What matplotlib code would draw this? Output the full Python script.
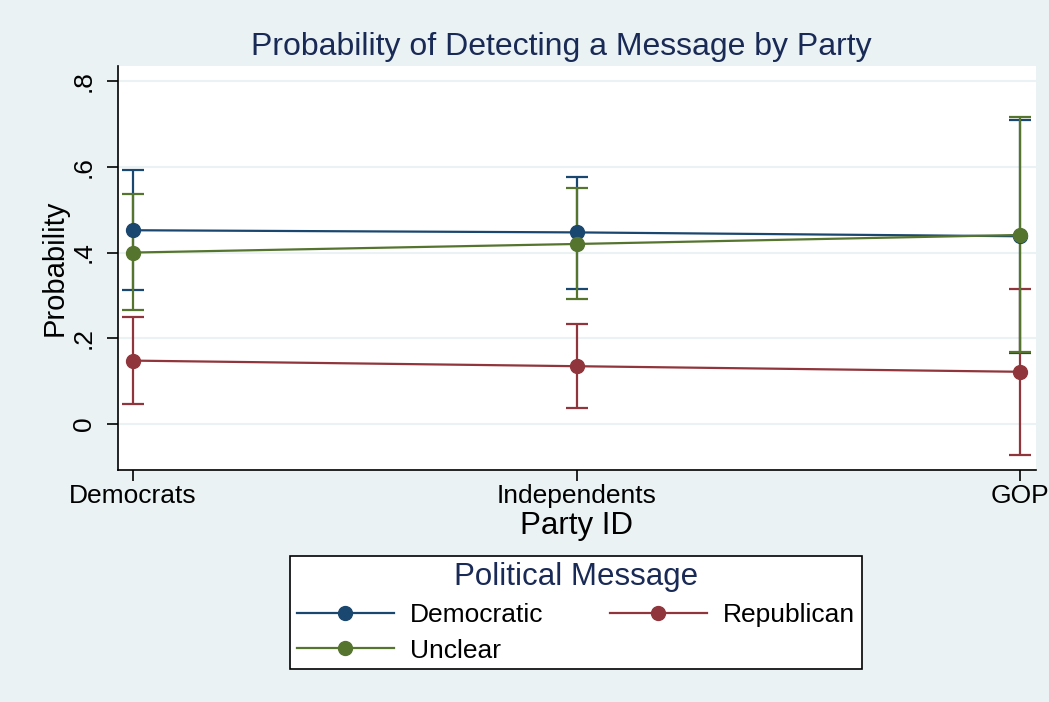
import matplotlib
matplotlib.use("Agg")
import matplotlib.pyplot as plt
from matplotlib.lines import Line2D

plt.rcParams['font.family'] = ['Liberation Sans', 'DejaVu Sans']

parties = ["Democrats", "Independents", "GOP"]
series_names = ["Democratic", "Republican", "Unclear"]
est_dem = [0.452, 0.447, 0.438]
lo_dem = [0.312, 0.316, 0.165]
hi_dem = [0.592, 0.577, 0.709]
est_rep = [0.148, 0.135, 0.122]
lo_rep = [0.047, 0.037, -0.072]
hi_rep = [0.250, 0.233, 0.316]
est_unc = [0.400, 0.420, 0.441]
lo_unc = [0.266, 0.291, 0.167]
hi_unc = [0.536, 0.551, 0.717]
yticks = [0, 0.2, 0.4, 0.6, 0.8]
ytick_labels = ["0", ".2", ".4", ".6", ".8"]

colors = {"Democratic": "#1a476f", "Republican": "#90353b", "Unclear": "#55752f"}
bg = "#eaf2f3"

fig = plt.figure(figsize=(10.49, 7.02), dpi=100, facecolor=bg)
ax = fig.add_axes([0.1125, 0.3305, 0.875, 0.5755])
ax.set_facecolor("white")

x = list(range(len(parties)))
data = [(series_names[0], est_dem, lo_dem, hi_dem),
        (series_names[1], est_rep, lo_rep, hi_rep),
        (series_names[2], est_unc, lo_unc, hi_unc)]

for z, (name, est, lo, hi) in enumerate(data):
    c = colors[name]
    yerr = [[e - l for e, l in zip(est, lo)], [h - e for e, h in zip(est, hi)]]
    ax.errorbar(x, est, yerr=yerr, fmt='none', ecolor=c, elinewidth=1.6,
                capsize=8, capthick=1.6, zorder=2 + z)
for z, (name, est, lo, hi) in enumerate(data):
    c = colors[name]
    ax.plot(x, est, color=c, lw=1.6, marker='o', markersize=10, zorder=6 + z)

ax.set_xlim(-0.034, 2.036)
ax.set_ylim(-0.107, 0.835)
ax.set_yticks(yticks)
ax.set_yticklabels(ytick_labels, rotation=90, va='center', fontsize=19)
ax.set_xticks(x)
ax.set_xticklabels(parties, fontsize=19)
ax.tick_params(axis='both', direction='out', length=8, width=1.2, color='black')
ax.tick_params(axis='y', pad=8)
ax.tick_params(axis='x', pad=2)
ax.grid(axis='y', color=bg, lw=1.5, zorder=0)
ax.set_axisbelow(True)
for s in ['top', 'right']:
    ax.spines[s].set_visible(False)
ax.spines['left'].set_linewidth(1.2)
ax.spines['bottom'].set_linewidth(1.2)

ax.set_xlabel("Party ID", fontsize=22.5, labelpad=2)
ax.set_ylabel("Probability", fontsize=21, labelpad=2)
fig.text(0.535, 0.933, "Probability of Detecting a Message by Party",
         ha='center', va='center', fontsize=23, color="#1a2a56")

handles = []
for name in [series_names[0], series_names[2], series_names[1]]:
    handles.append(Line2D([0], [0], color=colors[name], lw=1.6, marker='o', markersize=10))
labels = [series_names[0], series_names[2], series_names[1]]
leg = fig.legend(handles, labels, loc='center', ncol=2,
                 bbox_to_anchor=(0.2765, 0.0456, 0.545, 0.1638),
                 bbox_transform=fig.transFigure, mode='expand', borderaxespad=0,
                 fontsize=19, title="Political Message", title_fontsize=22.5,
                 frameon=True, fancybox=False, edgecolor='black', framealpha=1,
                 facecolor='white',
                 handlelength=3.7, handletextpad=0.6, columnspacing=2.0,
                 labelspacing=0.42, borderpad=0.25)
leg.get_frame().set_linewidth(1.2)
leg.get_title().set_color("#1a2a56")

fig.savefig("out.png", dpi=100, facecolor=bg)
